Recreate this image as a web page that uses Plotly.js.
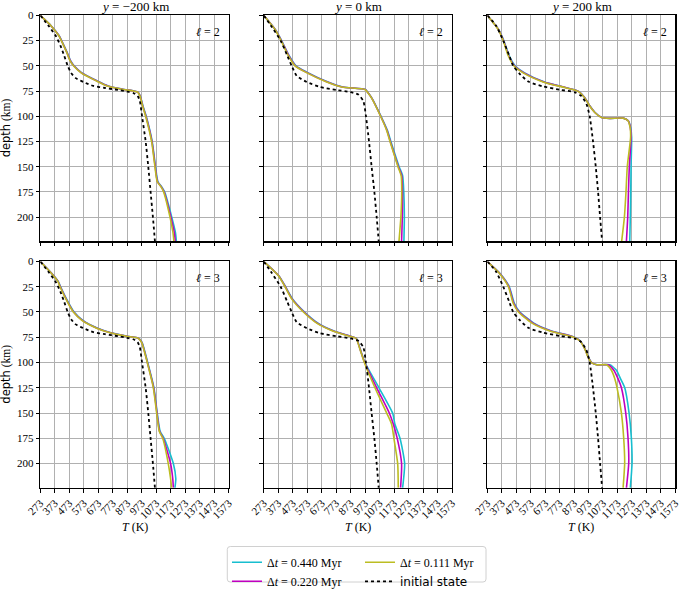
<!DOCTYPE html>
<html>
<head>
<meta charset="utf-8">
<script src="https://cdn.plot.ly/plotly-3.0.1.min.js"></script>
<style>html,body{margin:0;padding:0;background:#fff;} #chart{width:685px;height:596px;}</style>
</head>
<body>
<div id="chart"></div>
<script>
// ---------- tick labels ----------
const T_TICKS = [273, 373, 473, 573, 673, 773, 873, 973, 1073, 1173, 1273, 1373, 1473, 1573];
const DEPTH_TICKS = [0, 25, 50, 75, 100, 125, 150, 175, 200];
const COLUMN_TITLES = ['<i>y</i> = −200 km', '<i>y</i> = 0 km', '<i>y</i> = 200 km'];
const ROW_LABELS = ['<i>ℓ</i> = 2', '<i>ℓ</i> = 3'];
const SERIES_NAMES = ['Δ<i>t</i> = 0.440 Myr', 'Δ<i>t</i> = 0.220 Myr', 'Δ<i>t</i> = 0.111 Myr', 'initial state'];

// ---------- initial state (per column) ----------
const initDepth_m200 = [0, 10, 20, 30, 40, 50, 57, 62, 66, 70, 72, 74, 75.5, 77, 80, 85, 100, 125, 150, 175, 200, 224];
const initT_m200     = [273, 328, 378, 412, 438, 462, 485, 515, 570, 640, 720, 810, 870, 915, 945, 960, 975, 1000, 1018, 1034, 1050, 1064];
const initDepth_0    = [0, 10, 25, 40, 50, 60, 66, 71, 74, 76, 78.5, 85, 100, 125, 150, 175, 200, 224];
const initT_0        = [273, 322, 390, 436, 466, 501, 570, 662, 777, 869, 926, 961, 979, 1000, 1018, 1037, 1053, 1067];
const initDepth_200  = [0, 10, 25, 40, 50, 57.5, 65.6, 70.5, 73.7, 76.3, 80, 88, 100, 125, 150, 175, 200, 224];
const initT_200      = [273, 333, 383, 425, 452, 494, 556, 660, 774, 878, 924, 959, 981, 1004, 1023, 1039, 1053, 1067];

// ---------- y = -200 km, l = 2 ----------
const depth_m200_l2 = [0, 10, 20, 25, 37, 45, 50, 57, 65, 70, 73, 75, 76, 80, 90, 100, 125, 150, 165, 170, 175, 200, 215, 224];
const T440_m200_l2  = [273, 346, 402, 420, 459, 482, 506, 560, 666, 741, 836, 918, 947, 963, 982, 1004, 1045, 1068, 1085, 1111, 1131, 1180, 1205, 1212];
const T220_m200_l2  = [273, 345, 401, 419, 457, 480, 504, 557, 663, 738, 833, 916, 946, 962, 980, 1002, 1043, 1066, 1082, 1108, 1127, 1174, 1197, 1205];
const T111_m200_l2  = [273, 345, 400, 418, 456, 478, 502, 555, 660, 735, 830, 915, 945, 961, 979, 1000, 1041, 1064, 1080, 1106, 1124, 1168, 1188, 1195];

// ---------- y = 0 km, l = 2 ----------
const depth_0_l2 = [0, 14, 25, 40, 50, 56, 66, 71, 73.5, 76, 82, 100, 114, 125, 150, 159, 175, 200, 224];
const T440_0_l2  = [273, 353, 397, 449, 496, 567, 717, 820, 976, 990, 1020, 1083, 1127, 1151, 1208, 1232, 1240, 1244, 1241];
const T220_0_l2  = [273, 352, 395, 446, 492, 562, 712, 815, 974, 989, 1019, 1081, 1124, 1147, 1203, 1226, 1231, 1230, 1225];
const T111_0_l2  = [273, 351, 393, 443, 489, 558, 708, 811, 972, 988, 1018, 1080, 1122, 1145, 1200, 1222, 1226, 1220, 1207];

// ---------- y = 200 km, l = 2 ----------
const depth_200_l2 = [0, 14, 25, 40, 50, 57, 66, 72, 75.3, 81.8, 89.9, 96.3, 101.2, 102.1, 101.9, 104.4, 110.9, 120.6, 150, 175, 200, 224];
const T440_200_l2  = [273, 351, 387, 424, 465, 531, 669, 828, 905, 949, 983, 1018, 1064, 1122, 1214, 1248, 1264, 1271, 1267, 1265, 1262, 1258];
const T220_200_l2  = [273, 350, 385, 421, 461, 526, 664, 824, 903, 948, 982, 1017, 1063, 1121, 1213, 1247, 1262, 1267, 1255, 1249, 1244, 1235];
const T111_200_l2  = [273, 349, 383, 418, 457, 521, 659, 820, 901, 947, 981, 1016, 1062, 1120, 1212, 1246, 1260, 1264, 1241, 1232, 1221, 1202];

// ---------- y = -200 km, l = 3 ----------
const depth_m200_l3 = [0, 12, 20, 25, 43, 50, 58, 66, 70.5, 74, 76, 80, 100, 125, 150, 168, 175, 200, 215, 224];
const T440_m200_l3  = [273, 353, 398, 413, 476, 506, 565, 669, 761, 874, 951, 975, 1014, 1057, 1080, 1100, 1128, 1191, 1208, 1202];
const T220_m200_l3  = [273, 352, 396, 411, 473, 503, 561, 665, 757, 871, 950, 973, 1012, 1055, 1078, 1096, 1121, 1172, 1187, 1191];
const T111_m200_l3  = [273, 351, 395, 409, 471, 501, 558, 662, 754, 869, 949, 972, 1011, 1053, 1076, 1094, 1118, 1156, 1172, 1179];

// ---------- y = 0 km, l = 3 ----------
const depth_0_l3 = [0, 14, 25, 37, 50, 61, 69, 74, 76, 87, 100, 125, 150, 161, 175, 200, 224];
const T440_0_l3  = [273, 376, 424, 472, 555, 648, 763, 875, 912, 940, 972, 1069, 1163, 1179, 1214, 1246, 1232];
const T220_0_l3  = [273, 375, 422, 469, 551, 643, 758, 872, 911, 939, 970, 1053, 1140, 1168, 1195, 1225, 1218];
const T111_0_l3  = [273, 374, 420, 466, 547, 639, 754, 869, 910, 938, 968, 1041, 1122, 1156, 1172, 1198, 1202];

// ---------- y = 200 km, l = 3 ----------
const depth_200_l3 = [0, 12.3, 24.6, 41.4, 49.8, 60.8, 68.8, 74.7, 78.5, 86.6, 94.7, 100.2, 102.3, 102.3, 107.6, 115.7, 124.8, 149.6, 174.5, 199.4, 224];
const T440_200_l3  = [273, 364, 424, 460, 497, 592, 718, 872, 916, 949, 972, 995, 1032, 1120, 1166, 1193, 1223, 1253, 1269, 1274, 1262];
const T220_200_l3  = [273, 362, 421, 456, 492, 586, 712, 869, 914, 948, 971, 994, 1030, 1108, 1148, 1176, 1200, 1230, 1246, 1251, 1235];
const T111_200_l3  = [273, 360, 418, 452, 487, 579, 705, 866, 912, 947, 970, 993, 1028, 1097, 1131, 1154, 1170, 1200, 1216, 1223, 1212];

// ---------- assemble ----------
const panels = [
  {d: depth_m200_l2, c: T440_m200_l2, m: T220_m200_l2, y: T111_m200_l2, id: initDepth_m200, it: initT_m200},
  {d: depth_0_l2,    c: T440_0_l2,    m: T220_0_l2,    y: T111_0_l2,    id: initDepth_0,    it: initT_0},
  {d: depth_200_l2,  c: T440_200_l2,  m: T220_200_l2,  y: T111_200_l2,  id: initDepth_200,  it: initT_200},
  {d: depth_m200_l3, c: T440_m200_l3, m: T220_m200_l3, y: T111_m200_l3, id: initDepth_m200, it: initT_m200},
  {d: depth_0_l3,    c: T440_0_l3,    m: T220_0_l3,    y: T111_0_l3,    id: initDepth_0,    it: initT_0},
  {d: depth_200_l3,  c: T440_200_l3,  m: T220_200_l3,  y: T111_200_l3,  id: initDepth_200,  it: initT_200}
];

const COLORS = ['#17becf', '#bf00bf', '#bcbd22', '#000000'];
const SERIF = 'Liberation Serif, Times New Roman, serif';
const W = 685, H = 596;
const colPx = [[40.3, 228.7], [263.7, 452.0], [487.3, 675.3]];
const rowPx = [[15.7, 246.7], [267.3, 498.7]];

const traces = [];
const layout = {
  width: W, height: H,
  margin: {l: 0, r: 0, t: 0, b: 0},
  paper_bgcolor: '#fff', plot_bgcolor: '#fff',
  font: {family: SERIF, size: 11, color: '#000'},
  showlegend: true,
  annotations: [], shapes: []
};

panels.forEach((p, i) => {
  const n = i + 1;
  const xa = n === 1 ? 'x' : 'x' + n;
  const ya = n === 1 ? 'y' : 'y' + n;
  const row = Math.floor(i / 3), col = i % 3;
  const series = [[p.c, p.d], [p.m, p.d], [p.y, p.d], [p.it, p.id]];
  series.forEach((s, k) => {
    const isInit = k === 3;
    traces.push({
      type: 'scatter', mode: 'lines',
      x: s[0], y: s[1], xaxis: xa, yaxis: ya,
      name: isInit ? '<span style="font-family:DejaVu Sans">' + SERIES_NAMES[k] + '</span>' : SERIES_NAMES[k],
      legend: (k === 0 || k === 1) ? 'legend' : 'legend2',
      showlegend: i === 0,
      line: {color: COLORS[k], width: isInit ? 1.8 : 1.6, dash: isInit ? 'dot' : 'solid',
             shape: 'spline', smoothing: 0.6},
      hoverinfo: 'skip'
    });
  });
  const axCommon = {
    showline: true, linecolor: '#000', linewidth: 1.2, mirror: true,
    showgrid: true, gridcolor: '#b0b0b0', gridwidth: 1,
    zeroline: false, ticks: 'outside', ticklen: 3.5, tickwidth: 1, tickcolor: '#000',
    tickfont: {family: SERIF, size: 11, color: '#000'}
  };
  layout['xaxis' + (n === 1 ? '' : n)] = Object.assign({}, axCommon, {
    domain: [colPx[col][0] / W, colPx[col][1] / W],
    anchor: ya, range: [273, 1573], tickmode: 'array', tickvals: T_TICKS,
    ticktext: T_TICKS.map(String), tickangle: -45, showticklabels: row === 1
  });
  layout['yaxis' + (n === 1 ? '' : n)] = Object.assign({}, axCommon, {
    domain: [1 - rowPx[row][1] / H, 1 - rowPx[row][0] / H],
    anchor: xa, range: [224, 0], tickmode: 'array', tickvals: DEPTH_TICKS,
    ticktext: DEPTH_TICKS.map(String), showticklabels: col === 0
  });
  layout.annotations.push({
    xref: xa + ' domain', yref: ya + ' domain', x: 0.965, y: 0.965,
    xanchor: 'right', yanchor: 'top', showarrow: false,
    text: ROW_LABELS[row], font: {family: SERIF, size: 12}
  });
});

COLUMN_TITLES.forEach((t, c) => {
  layout.annotations.push({
    xref: 'paper', yref: 'paper', x: (colPx[c][0] + colPx[c][1]) / 2 / W, y: 1 - 6.5 / H,
    xanchor: 'center', yanchor: 'middle', showarrow: false,
    text: t, font: {family: SERIF, size: 13}
  });
  layout.annotations.push({
    xref: 'paper', yref: 'paper', x: (colPx[c][0] + colPx[c][1]) / 2 / W, y: 1 - 539 / H,
    xanchor: 'center', yanchor: 'middle', showarrow: false,
    text: '<i>T</i> (K)', font: {family: SERIF, size: 12}
  });
});
rowPx.forEach(r => {
  layout.annotations.push({
    xref: 'paper', yref: 'paper', x: 6 / W, y: 1 - (r[0] + r[1]) / 2 / H,
    xanchor: 'center', yanchor: 'middle', showarrow: false, textangle: -90,
    text: '<span style="font-family:DejaVu Sans">depth</span> (km)', font: {family: SERIF, size: 11.5}
  });
});

// legend frame (rounded)
(function () {
  const x0 = 227.3, x1 = 486, y0 = 558.7, y1 = 595, r = 3;
  const X = v => (v / W).toFixed(5), Y = v => (1 - v / H).toFixed(5);
  const path = `M ${X(x0 + r)} ${Y(y0)} L ${X(x1 - r)} ${Y(y0)} Q ${X(x1)} ${Y(y0)} ${X(x1)} ${Y(y0 + r)} ` +
    `L ${X(x1)} ${Y(y1 - r)} Q ${X(x1)} ${Y(y1)} ${X(x1 - r)} ${Y(y1)} L ${X(x0 + r)} ${Y(y1)} ` +
    `Q ${X(x0)} ${Y(y1)} ${X(x0)} ${Y(y1 - r)} L ${X(x0)} ${Y(y0 + r)} Q ${X(x0)} ${Y(y0)} ${X(x0 + r)} ${Y(y0)} Z`;
  layout.shapes.push({type: 'path', xref: 'paper', yref: 'paper', path: path,
    line: {color: '#d0d0d0', width: 1}, fillcolor: 'rgba(255,255,255,0.8)', layer: 'below'});
})();

const legCommon = {
  orientation: 'v', xanchor: 'left', yanchor: 'top', y: 1 - 560 / H,
  bgcolor: 'rgba(0,0,0,0)', borderwidth: 0, font: {family: SERIF, size: 12, color: '#000'},
  itemwidth: 30, tracegroupgap: 0
};
layout.legend = Object.assign({}, legCommon, {x: 227 / W});
layout.legend2 = Object.assign({}, legCommon, {x: 360 / W});

Plotly.newPlot('chart', traces, layout, {staticPlot: true, displayModeBar: false});
</script>
</body>
</html>
